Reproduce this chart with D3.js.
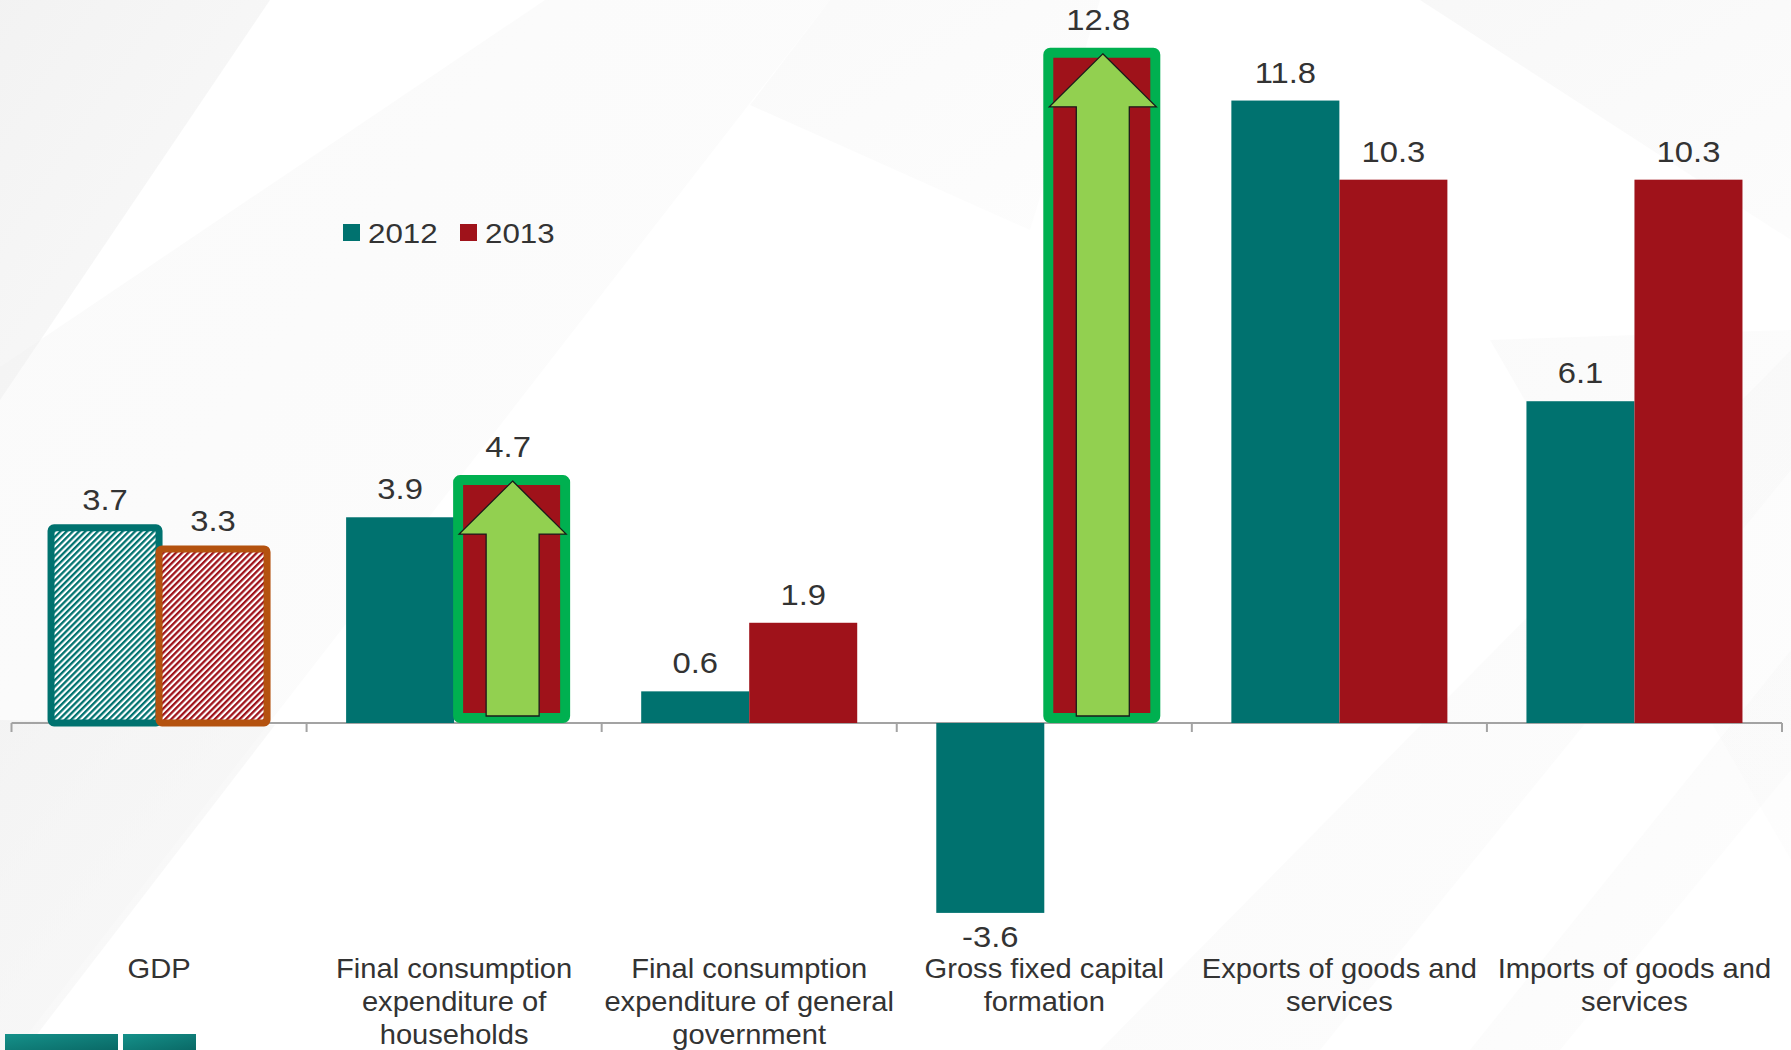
<!DOCTYPE html>
<html>
<head>
<meta charset="utf-8">
<script src="https://cdn.jsdelivr.net/npm/d3@7"></script>
<style>
  html, body { margin: 0; padding: 0; background: #ffffff; }
  svg { display: block; }
  text { font-family: "Liberation Sans", Arial, sans-serif; fill: #333333; }
</style>
</head>
<body>
<svg id="chart" width="1791" height="1050"></svg>
<script>
// Real growth of GDP and its expenditure components, % change
const categories = [
  "GDP",
  "Final consumption expenditure of households",
  "Final consumption expenditure of general government",
  "Gross fixed capital formation",
  "Exports of goods and services",
  "Imports of goods and services"
];
const categoryLines = [
  ["GDP"],
  ["Final consumption", "expenditure of", "households"],
  ["Final consumption", "expenditure of general", "government"],
  ["Gross fixed capital", "formation"],
  ["Exports of goods and", "services"],
  ["Imports of goods and", "services"]
];
const seriesNames = ["2012", "2013"];
const values2012 = [3.7, 3.9, 0.6, -3.6, 11.8, 6.1];
const values2013 = [3.3, 4.7, 1.9, 12.8, 10.3, 10.3];
// bars drawn with a diagonal hatch, and bars marked with a rising arrow
const hatchedCategories = ["GDP"];
const arrowMarked = [
  { category: "Final consumption expenditure of households", series: "2013" },
  { category: "Gross fixed capital formation", series: "2013" }
];

const colors = { "2012": "#00726f", "2013": "#9f121a" };
const hatchBorder = { "2012": "#00726f", "2013": "#b4520f" };

const rows = categories.map((c, i) => ({
  category: c,
  lines: categoryLines[i],
  values: [
    { series: "2012", value: values2012[i] },
    { series: "2013", value: values2013[i] }
  ]
}));
const isMarked = (c, s) => arrowMarked.some(m => m.category === c && m.series === s);
// one decimal, plain hyphen for negatives
const fmt = v => (v < 0 ? "-" : "") + Math.abs(v).toFixed(1);

const svg = d3.select("#chart");
const W = 1791, H = 1050;

// ---- soft diagonal backdrop ----
const defs = svg.append("defs");
const grad = defs.append("linearGradient").attr("id", "bgGrey")
  .attr("x1", "0").attr("y1", "0").attr("x2", "1").attr("y2", "1");
grad.append("stop").attr("offset", "0").attr("stop-color", "#ededed");
grad.append("stop").attr("offset", "1").attr("stop-color", "#f8f8f8");

const bg = svg.append("g");
bg.append("rect").attr("width", W).attr("height", H).attr("fill", "#ffffff");
const bgShapes = [
  { pts: [[0, 0], [270, 0], [0, 400]], op: 0.7 },
  { pts: [[545, 0], [830, 0], [0, 1070], [0, 367]], op: 0.28 },
  { pts: [[830, 0], [1100, 0], [1030, 230], [750, 105]], op: 0.3 },
  { pts: [[0, 720], [275, 725], [25, 1050], [0, 1050]], op: 0.55 },
  { pts: [[1420, 0], [1791, 0], [1791, 240]], op: 0.4 },
  { pts: [[1490, 340], [1791, 330], [1791, 860]], op: 0.25 },
  { pts: [[1100, 1050], [1320, 1050], [1791, 470], [1791, 350]], op: 0.3 },
  { pts: [[1470, 1050], [1560, 1050], [1791, 770], [1791, 650]], op: 0.25 }
];
bg.selectAll("polygon").data(bgShapes).join("polygon")
  .attr("points", d => d.pts.map(p => p.join(",")).join(" "))
  .attr("fill", "url(#bgGrey)")
  .attr("opacity", d => d.op);

// ---- hatch patterns ----
const hp = 4.4;
seriesNames.forEach(s => {
  const p = defs.append("pattern")
    .attr("id", "hatch" + s)
    .attr("patternUnits", "userSpaceOnUse")
    .attr("width", hp).attr("height", hp)
    .attr("patternTransform", "rotate(45)");
  p.append("rect").attr("width", hp).attr("height", hp).attr("fill", "#ffffff");
  p.append("rect").attr("width", hp * 0.52).attr("height", hp).attr("fill", colors[s]);
});

// ---- scales ----
const x0 = d3.scaleBand().domain(categories).range([11.5, 1782]).paddingInner(0).paddingOuter(0);
const x1 = d3.scaleBand().domain(seriesNames).range([0, x0.bandwidth()]).paddingInner(0).paddingOuter(0.366);
const y = d3.scaleLinear().domain([-6, 14]).range([1039.5, -15.5]);
const zeroY = y(0);

// ---- axis line with category boundary ticks ----
const axisG = svg.append("g");
axisG.append("line")
  .attr("x1", x0.range()[0]).attr("x2", x0.range()[1])
  .attr("y1", zeroY).attr("y2", zeroY)
  .attr("stroke", "#a3a3a3").attr("stroke-width", 2);
const tickXs = categories.map(c => x0(c)).concat([x0.range()[1]]);
axisG.selectAll("line.tick").data(tickXs).join("line")
  .attr("class", "tick")
  .attr("x1", d => d).attr("x2", d => d)
  .attr("y1", zeroY).attr("y2", zeroY + 9)
  .attr("stroke", "#a3a3a3").attr("stroke-width", 2);

// ---- bars ----
const groups = svg.append("g").selectAll("g.cat").data(rows).join("g")
  .attr("class", "cat")
  .attr("transform", d => `translate(${x0(d.category)},0)`);

groups.each(function (row) {
  const g = d3.select(this);
  const hatched = hatchedCategories.includes(row.category);
  row.values.forEach(v => {
    if (isMarked(row.category, v.series)) return; // drawn with its frame below
    const bx = x1(v.series), bw = x1.bandwidth();
    const top = Math.min(y(v.value), zeroY), h = Math.abs(y(v.value) - zeroY);
    if (hatched) {
      g.append("rect")
        .attr("x", bx).attr("y", top).attr("width", bw).attr("height", h)
        .attr("rx", 3)
        .attr("fill", `url(#hatch${v.series})`)
        .attr("stroke", hatchBorder[v.series]).attr("stroke-width", 7);
    } else {
      g.append("rect")
        .attr("x", bx).attr("y", top).attr("width", bw).attr("height", h)
        .attr("fill", colors[v.series]);
    }
  });
});

// ---- green frame and rising arrow on marked bars ----
const marks = svg.append("g");
arrowMarked.forEach(m => {
  const row = rows.find(r => r.category === m.category);
  const v = row.values.find(d => d.series === m.series);
  const bx = x0(m.category) + x1(m.series), bw = x1.bandwidth();
  const fx = bx - 1, fw = bw + 9;
  const top = y(v.value);
  // bar with a 10px green border
  marks.append("rect")
    .attr("x", fx + 5).attr("y", top + 5)
    .attr("width", fw - 10).attr("height", zeroY - top - 10)
    .attr("rx", 2)
    .attr("fill", colors[m.series])
    .attr("stroke", "#00b050").attr("stroke-width", 10)
    .attr("stroke-linejoin", "round");
  // arrow
  const cx = fx + fw / 2 + 1;
  const tipY = top + 6, headY = tipY + 53, baseY = zeroY - 7;
  const hw = 53.5, sw = 26.5;
  const pts = [
    [cx, tipY], [cx + hw, headY], [cx + sw, headY], [cx + sw, baseY],
    [cx - sw, baseY], [cx - sw, headY], [cx - hw, headY]
  ];
  marks.append("polygon")
    .attr("points", pts.map(p => p.join(",")).join(" "))
    .attr("fill", "#92d050")
    .attr("stroke", "#1a1a1a").attr("stroke-width", 1.3)
    .attr("stroke-linejoin", "miter");
});

// ---- text helper: horizontally widened real text ----
function label(sel, x, yy, str, size, sx, anchor) {
  return sel.append("text")
    .attr("transform", `translate(${x},${yy}) scale(${sx},1)`)
    .attr("text-anchor", anchor || "middle")
    .style("font-size", size + "px")
    .text(str);
}

// ---- value labels ----
const valG = svg.append("g");
rows.forEach(row => {
  row.values.forEach(v => {
    const cx = x0(row.category) + x1(v.series) + x1.bandwidth() / 2;
    const yy = v.value >= 0 ? y(v.value) - 18 : y(v.value) + 34;
    label(valG, cx, yy, fmt(v.value), 29.3, 1.12);
  });
});

// ---- category labels ----
const catG = svg.append("g");
rows.forEach(row => {
  const cx = x0(row.category) + x0.bandwidth() / 2;
  row.lines.forEach((ln, i) => {
    label(catG, cx, 978 + i * 33, ln, 28, 1.04);
  });
});

// ---- legend ----
const legend = svg.append("g");
const legendItems = [
  { s: "2012", sx: 343, tx: 368 },
  { s: "2013", sx: 460, tx: 485 }
];
legendItems.forEach(it => {
  legend.append("rect")
    .attr("x", it.sx).attr("y", 224).attr("width", 17).attr("height", 17)
    .attr("fill", colors[it.s]);
  label(legend, it.tx, 243, it.s, 27, 1.16, "start");
});

// ---- teal strip at the bottom-left ----
const stripGrad = defs.append("linearGradient").attr("id", "stripTeal")
  .attr("x1", "0").attr("y1", "0").attr("x2", "1").attr("y2", "1");
stripGrad.append("stop").attr("offset", "0").attr("stop-color", "#15918a");
stripGrad.append("stop").attr("offset", "1").attr("stop-color", "#0a6966");
const strip = svg.append("g");
[[5, 113], [123, 73]].forEach(([sx, sw]) => {
  strip.append("rect").attr("x", sx).attr("y", 1034).attr("width", sw).attr("height", 16)
    .attr("fill", "url(#stripTeal)");
});
</script>
</body>
</html>
